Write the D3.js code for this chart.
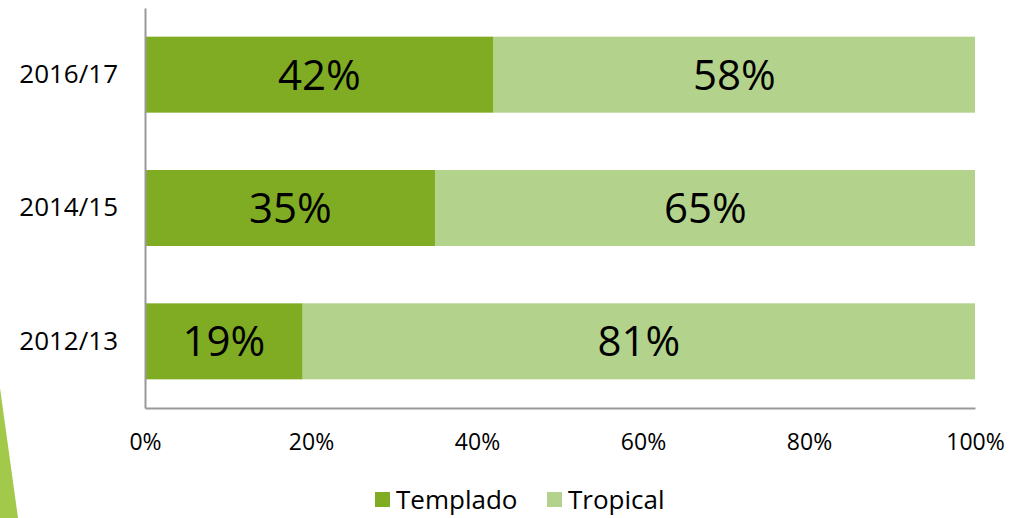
<!DOCTYPE html>
<html>
<head>
<meta charset="utf-8">
<script src="https://cdn.jsdelivr.net/npm/d3@7"></script>
<style>
  body { margin: 0; background: #fff; }
  svg { display: block; font-family: "Open Sans", sans-serif; }
</style>
</head>
<body>
<script>
// data
const periods = ["2016/17", "2014/15", "2012/13"];
const templado = [42, 35, 19];
const tropical = [58, 65, 81];
const seriesNames = ["Templado", "Tropical"];
const xTicks = [0, 20, 40, 60, 80, 100];

const w = 1011, h = 518;
const plotLeft = 145, plotRight = 975, plotTop = 8, plotBottom = 408;
const colors = ["#80ac23", "#b3d38c"];

const svg = d3.select("body").append("svg")
  .attr("width", w)
  .attr("height", h);

// slide decoration (green sliver bottom left)
svg.append("path")
  .attr("d", "M0,388 L18,518 L0,518 Z")
  .attr("fill", "#a3c94a");

const xScale = d3.scaleLinear().domain([0, 100]).range([plotLeft, plotRight]);
const yScale = d3.scaleBand().domain(periods).range([plotTop, plotBottom])
  .paddingInner(0.43).paddingOuter(0.215);

const rows = periods.map((p, i) => ({ period: p, values: [templado[i], tropical[i]] }));

rows.forEach(r => {
  let acc = 0;
  r.values.forEach((v, j) => {
    const x0 = acc;
    acc += v;
    svg.append("rect")
      .attr("x", xScale(x0))
      .attr("y", yScale(r.period))
      .attr("width", xScale(acc) - xScale(x0))
      .attr("height", yScale.bandwidth())
      .attr("fill", colors[j]);
    svg.append("text")
      .attr("x", (xScale(x0) + xScale(acc)) / 2)
      .attr("y", yScale(r.period) + yScale.bandwidth() / 2)
      .attr("dy", "0.36em")
      .attr("text-anchor", "middle")
      .style("font-size", "42px")
      .attr("fill", "#000")
      .text(v + "%");
  });
});

// axes
const xAxis = d3.axisBottom(xScale).tickValues(xTicks).tickSize(0).tickPadding(26)
  .tickFormat(d => d + "%");
const yAxis = d3.axisLeft(yScale).tickSize(0).tickPadding(27);

const gx = svg.append("g")
  .attr("transform", "translate(0," + plotBottom + ")")
  .call(xAxis)
  .attr("font-family", null);
gx.select(".domain").attr("stroke", "#999").attr("stroke-width", 2);
gx.selectAll("text").style("font-size", "23px").attr("fill", "#000");

const gy = svg.append("g")
  .attr("transform", "translate(" + plotLeft + ",0)")
  .call(yAxis)
  .attr("font-family", null);
gy.select(".domain").attr("stroke", "#999").attr("stroke-width", 2);
gy.selectAll("text").style("font-size", "26px").attr("fill", "#000");

// legend
const legendX = [375, 547];
seriesNames.forEach((name, i) => {
  svg.append("rect")
    .attr("x", legendX[i]).attr("y", 492)
    .attr("width", 15).attr("height", 15)
    .attr("fill", colors[i]);
  svg.append("text")
    .attr("x", legendX[i] + 21).attr("y", 500)
    .attr("dy", "0.36em")
    .style("font-size", "26px")
    .text(name);
});
</script>
</body>
</html>
